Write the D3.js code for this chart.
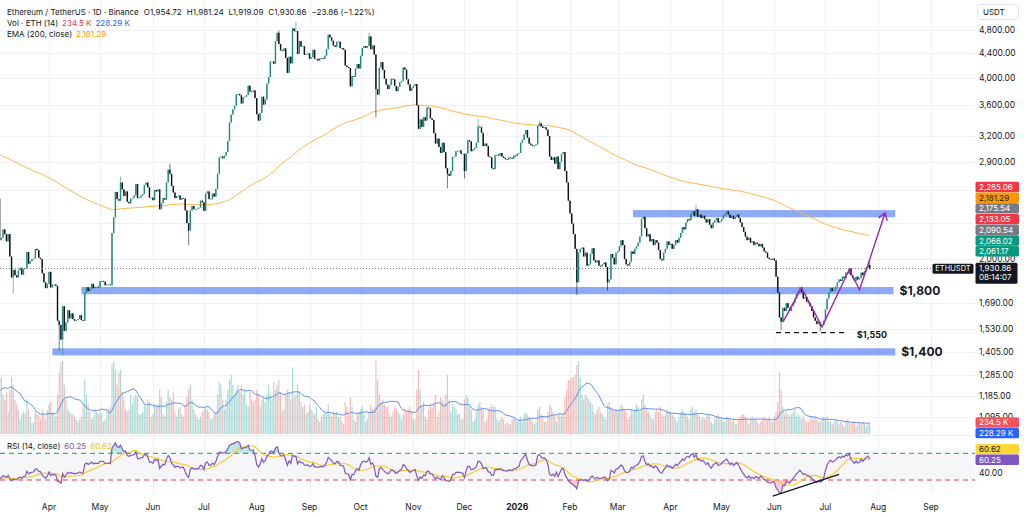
<!DOCTYPE html>
<html>
<head>
<meta charset="utf-8">
<script src="https://cdn.jsdelivr.net/npm/d3@7"></script>
<style>
  html, body { margin: 0; padding: 0; background: #fff; }
  svg { display: block; font-family: Inter, "Noto Sans", sans-serif; }
</style>
</head>
<body>
<script>
/* global d3 */

const width = 1024
const height = 517
const paneRight = 975

// daily candles from 2025-02-01 (open = previous close)
const startDay = Date.UTC(2025, 1, 1)
const closes = [
  /* 2025-02 */ 3125, 2870, 2880, 2730, 2785, 2690, 2625, 2630, 2630, 2660, 2600, 2740, 2675, 2725, 2690, 2665, 2745, 2670, 2715, 2735, 2660, 2765, 2815, 2505, 2490, 2335, 2300, 2235,
  /* 2025-03 */ 2215, 2520, 2150, 2170, 2240, 2200, 2140, 2200, 2020, 1865, 1920, 1880, 1865, 1915, 1935, 1885, 1925, 1930, 2055, 1965, 1985, 2000, 2005, 2080, 2070, 2010, 2000, 1895, 1830, 1790, 1820,
  /* 2025-04 */ 1905, 1795, 1815, 1815, 1805, 1580, 1555, 1470, 1670, 1520, 1570, 1645, 1595, 1625, 1590, 1580, 1585, 1590, 1615, 1585, 1580, 1760, 1795, 1770, 1785, 1820, 1790, 1800, 1800, 1795,
  /* 2025-05 */ 1840, 1840, 1835, 1810, 1815, 1815, 1810, 2210, 2345, 2585, 2515, 2500, 2680, 2610, 2545, 2590, 2490, 2475, 2520, 2525, 2550, 2665, 2525, 2530, 2550, 2565, 2655, 2680, 2630, 2530, 2530,
  /* 2025-06 */ 2505, 2605, 2590, 2610, 2420, 2475, 2525, 2510, 2680, 2815, 2770, 2645, 2580, 2525, 2545, 2550, 2510, 2525, 2520, 2410, 2295, 2230, 2410, 2450, 2420, 2420, 2425, 2435, 2500, 2485,
  /* 2025-07 */ 2405, 2570, 2590, 2515, 2515, 2570, 2540, 2615, 2770, 2950, 2960, 2940, 2970, 3010, 3140, 3370, 3475, 3545, 3590, 3755, 3760, 3740, 3625, 3710, 3720, 3745, 3880, 3795, 3790, 3810, 3700,
  /* 2025-08 */ 3480, 3395, 3495, 3720, 3610, 3680, 3910, 4010, 4255, 4255, 4220, 4600, 4750, 4550, 4440, 4430, 4475, 4315, 4075, 4335, 4225, 4830, 4780, 4780, 4380, 4600, 4505, 4510, 4365, 4375, 4390,
  /* 2025-09 */ 4300, 4325, 4450, 4300, 4300, 4270, 4305, 4310, 4300, 4350, 4460, 4715, 4665, 4605, 4525, 4500, 4590, 4590, 4480, 4475, 4450, 4190, 4165, 4150, 3870, 4025, 4015, 4140, 4215, 4145,
  /* 2025-10 */ 4350, 4480, 4515, 4485, 4515, 4685, 4460, 4525, 4370, 3830, 3750, 4155, 4245, 4120, 3985, 3895, 3830, 3890, 3985, 3975, 3875, 3800, 3860, 3930, 3950, 4160, 4125, 3975, 3900, 3805, 3850,
  /* 2025-11 */ 3875, 3905, 3600, 3290, 3410, 3315, 3440, 3395, 3570, 3560, 3425, 3405, 3235, 3110, 3170, 3070, 3000, 3120, 3010, 2830, 2770, 2750, 2800, 2955, 2960, 3020, 3020, 3030, 2990, 2990,
  /* 2025-12 */ 2800, 2995, 3150, 3135, 3020, 3040, 3060, 3120, 3320, 3310, 3240, 3080, 3110, 3080, 2960, 2950, 2830, 2820, 2975, 2980, 2970, 3000, 2960, 2945, 2930, 2925, 2950, 2945, 2935, 2970, 2965,
  /* 2026-01 */ 2990, 3000, 3120, 3150, 3220, 3275, 3180, 3110, 3090, 3080, 3085, 3100, 3330, 3360, 3320, 3300, 3310, 3280, 3200, 2960, 2920, 2950, 2880, 2960, 2820, 2900, 2990, 3010, 2800, 2680, 2500,
  /* 2026-02 */ 2380, 2290, 2200, 2080, 1830, 2050, 2080, 2090, 2020, 2050, 1950, 1960, 2040, 2085, 1990, 1975, 1990, 1950, 1945, 1960, 1975, 1940, 1830, 1850, 2040, 2010, 1960, 2050,
  /* 2026-03 */ 2060, 2100, 2150, 2110, 2000, 1960, 1950, 1980, 2060, 2040, 2080, 2100, 2130, 2180, 2330, 2350, 2250, 2180, 2200, 2140, 2160, 2110, 2150, 2130, 2070, 2000, 1990, 2050, 2080, 2140, 2110,
  /* 2026-04 */ 2120, 2080, 2110, 2150, 2130, 2170, 2210, 2260, 2240, 2300, 2330, 2320, 2380, 2400, 2360, 2420, 2350, 2370, 2340, 2360, 2330, 2300, 2330, 2280, 2250, 2300, 2320, 2340, 2300, 2310,
  /* 2026-05 */ 2330, 2360, 2380, 2400, 2370, 2340, 2360, 2330, 2350, 2370, 2340, 2300, 2260, 2220, 2180, 2150, 2170, 2130, 2140, 2110, 2130, 2120, 2100, 2120, 2090, 2060, 2050, 2010, 2000, 1995, 2005,
  /* 2026-06 */ 1990, 1870, 1760, 1600, 1575, 1660, 1640, 1690, 1660, 1640, 1670, 1690, 1720, 1750, 1770, 1795, 1760, 1720, 1730, 1700, 1690, 1670, 1640, 1600, 1580, 1560, 1570, 1550, 1555, 1580,
  /* 2026-07 */ 1650, 1720, 1760, 1790, 1770, 1780, 1800, 1830, 1850, 1840, 1870, 1860, 1900, 1890, 1930, 1880, 1860, 1840, 1870, 1850, 1860, 1900, 1880, 1910, 1935, 1954.72, 1930.86
]

// daily volume, thousand ETH
const volumes = [
  /* 2025-02 */ 900, 1500, 1900, 1100, 800, 750, 700, 450, 500, 700, 650, 850, 700, 600, 400, 450, 650, 700, 600, 550, 900, 600, 500, 1100, 1300, 1200, 900, 1000,
  /* 2025-03 */ 500, 1200, 1250, 1150, 800, 700, 850, 450, 900, 1150, 1000, 700, 600, 500, 300, 400, 450, 420, 700, 500, 350, 220, 250, 450, 400, 380, 300, 500, 400, 300, 480,
  /* 2025-04 */ 600, 650, 450, 400, 350, 800, 1250, 1450, 1480, 1000, 700, 500, 450, 420, 400, 350, 300, 250, 300, 350, 600, 1100, 800, 600, 450, 300, 350, 500, 450, 400,
  /* 2025-05 */ 450, 400, 250, 300, 450, 500, 550, 1400, 1480, 1300, 1000, 1250, 1300, 850, 700, 500, 450, 500, 800, 600, 750, 800, 750, 400, 400, 450, 600, 550, 700, 650, 350,
  /* 2025-06 */ 400, 600, 550, 600, 900, 750, 400, 350, 650, 900, 750, 700, 850, 450, 350, 500, 550, 400, 350, 600, 750, 900, 1000, 700, 500, 400, 350, 300, 350, 450,
  /* 2025-07 */ 500, 550, 500, 450, 300, 300, 400, 450, 800, 1050, 1000, 700, 500, 700, 900, 1100, 1200, 1000, 800, 900, 1000, 850, 1000, 800, 900, 600, 550, 850, 700, 650, 700,
  /* 2025-08 */ 900, 800, 550, 700, 750, 650, 800, 1000, 800, 700, 1050, 900, 1000, 1100, 850, 450, 500, 800, 900, 850, 700, 1350, 750, 800, 1000, 850, 650, 550, 600, 400, 450,
  /* 2025-09 */ 600, 500, 450, 400, 550, 300, 250, 350, 400, 450, 400, 600, 400, 350, 450, 400, 450, 350, 350, 250, 200, 650, 550, 400, 750, 550, 300, 250, 400, 450,
  /* 2025-10 */ 500, 550, 400, 250, 300, 450, 600, 500, 550, 1480, 1100, 800, 650, 700, 600, 550, 550, 400, 350, 450, 550, 500, 450, 400, 300, 400, 500, 450, 500, 550, 450,
  /* 2025-11 */ 300, 300, 900, 1300, 900, 600, 650, 350, 300, 500, 600, 550, 650, 800, 350, 450, 750, 700, 650, 800, 1200, 700, 450, 600, 550, 500, 400, 400, 300, 300,
  /* 2025-12 */ 700, 800, 750, 550, 500, 250, 300, 450, 600, 650, 550, 500, 250, 300, 500, 550, 600, 550, 550, 300, 250, 300, 350, 300, 200, 250, 200, 200, 300, 350, 300,
  /* 2026-01 */ 250, 300, 350, 250, 400, 450, 400, 350, 300, 250, 200, 250, 500, 550, 400, 350, 250, 250, 450, 600, 550, 450, 400, 250, 400, 400, 350, 450, 750, 900, 1100,
  /* 2026-02 */ 1100, 1150, 1150, 1200, 1400, 1480, 1150, 800, 700, 800, 750, 700, 650, 600, 450, 400, 500, 550, 450, 400, 350, 300, 600, 650, 550, 500, 450, 500,
  /* 2026-03 */ 450, 500, 600, 550, 500, 450, 300, 350, 500, 450, 500, 600, 550, 450, 700, 800, 600, 500, 450, 400, 300, 300, 450, 500, 450, 550, 400, 350, 400, 500, 450,
  /* 2026-04 */ 450, 400, 350, 300, 250, 350, 450, 500, 450, 400, 350, 300, 500, 550, 450, 500, 400, 350, 300, 350, 300, 350, 400, 350, 250, 200, 300, 350, 400, 350,
  /* 2026-05 */ 300, 250, 250, 350, 300, 300, 250, 300, 200, 200, 300, 350, 400, 400, 350, 300, 200, 300, 350, 300, 300, 250, 200, 250, 300, 350, 300, 300, 350, 250, 250,
  /* 2026-06 */ 350, 450, 650, 1250, 900, 550, 400, 450, 400, 350, 400, 450, 500, 350, 400, 350, 300, 350, 300, 250, 250, 300, 350, 300, 350, 300, 250, 250, 300, 350,
  /* 2026-07 */ 300, 350, 250, 250, 200, 250, 300, 250, 200, 250, 200, 150, 250, 300, 250, 200, 250, 250, 150, 200, 250, 200, 250, 200, 150, 200, 234.5
]

// notable wick extremes
const wickHighs = {
  '2025-05-13': 2740, '2025-06-11': 2880, '2025-08-14': 4790, '2025-08-24': 4956,
  '2025-10-06': 4755, '2025-12-09': 3420, '2026-01-14': 3400, '2026-04-16': 2460, '2026-07-27': 1981.24
}
const wickLows = {
  '2025-03-11': 1755, '2025-04-07': 1410, '2025-04-09': 1385, '2025-06-22': 2110, '2025-10-10': 3435,
  '2025-11-21': 2620, '2025-12-01': 2720, '2026-02-05': 1745, '2026-02-23': 1775, '2026-06-05': 1524,
  '2026-06-28': 1518, '2026-07-27': 1919.09
}

const emaSeed = 3110
const priceTicks = [4800, 4400, 4000, 3600, 3200, 2900, 2600, 2300, 2000, 1690, 1530, 1405, 1285, 1185, 1095]
const hiddenPriceLabels = [2600, 2300] // sit under the price tags
const rsiTicks = [40]

const levelBars = [
  { price: 2379, from: '2026-03-10', to: '2026-08-11' },
  { price: 1773, from: '2025-04-20', to: '2026-08-10', label: '$1,800' },
  { price: 1403, from: '2025-04-03', to: '2026-08-11', label: '$1,400' }
]
const dashedLevel = { price: 1510, from: '2026-06-02', to: '2026-07-13', label: '$1,550' }
const zigzag = [
  ['2026-06-06', 1572], ['2026-06-17', 1792], ['2026-06-29', 1544], ['2026-07-15', 1922],
  ['2026-07-21', 1779], ['2026-07-26', 1959], ['2026-08-05', 2385]
]
const rsiTrend = [['2026-05-31', 6], ['2026-07-09', 38.5]]

const priceTags = [
  { text: '2,285.06', bg: '#f23645', fg: '#fff' },
  { text: '2,181.29', bg: '#ff9800', fg: '#131722' },
  { text: '2,175.54', bg: '#787b86', fg: '#fff' },
  { text: '2,133.05', bg: '#f23645', fg: '#fff' },
  { text: '2,090.54', bg: '#787b86', fg: '#fff' },
  { text: '2,066.02', bg: '#089981', fg: '#fff' },
  { text: '2,061.17', bg: '#089981', fg: '#fff', value: 2061.17 }
]
const lastPrice = 1930.86
const volTags = [{ text: '234.5 K', bg: '#f7525f', value: 234.5 }, { text: '228.29 K', bg: '#2962ff' }]
const rsiTags = [{ text: '60.62', bg: '#fdd835', fg: '#131722' }, { text: '60.25', bg: '#7e57c2', fg: '#fff', value: 60.25 }]

const legendRows = [
  { y: 14.5, gap: 5, items: [['Ethereum / TetherUS · 1D · Binance', '#131722'], ['O1,954.72', '#131722'], ['H1,981.24', '#131722'], ['L1,919.09', '#131722'], ['C1,930.86', '#131722'], ['−23.86 (−1.22%)', '#131722']] },
  { y: 26, gap: 4, items: [['Vol · ETH (14)', '#131722'], ['234.5 K', '#f23645'], ['228.29 K', '#2962ff']] },
  { y: 36.5, gap: 4, items: [['EMA (200, close)', '#131722'], ['2,181.29', '#ff9800']] },
  { y: 449, gap: 4, items: [['RSI (14, close)', '#131722'], ['60.25', '#7e57c2'], ['60.62', '#f5c400']] }
]

const parse = d3.utcParse('%Y-%m-%d')
const fmtDay = d3.utcFormat('%Y-%m-%d')

const candles = closes.map((c, i) => {
  const date = d3.utcDay.offset(new Date(startDay), i)
  const key = fmtDay(date)
  const o = i ? closes[i - 1] : c
  return {
    date,
    o,
    c,
    h: Math.max(o, c, wickHighs[key] || 0),
    l: Math.min(o, c, wickLows[key] || Infinity),
    v: volumes[i]
  }
})

// indicators
const k = 2 / 201
let e = emaSeed
const ema = closes.map(c => (e = c * k + e * (1 - k)))

const rsi = [null]
let ag = 0
let al = 0
for (let i = 1; i < closes.length; i++) {
  const ch = closes[i] - closes[i - 1]
  const g = Math.max(ch, 0)
  const l = Math.max(-ch, 0)
  if (i <= 14) {
    ag += g / 14
    al += l / 14
    rsi.push(i === 14 ? 100 - 100 / (1 + ag / al) : null)
  } else {
    ag = (ag * 13 + g) / 14
    al = (al * 13 + l) / 14
    rsi.push(100 - 100 / (1 + ag / al))
  }
}
const rsiMa = rsi.map((r, i) => {
  if (i < 27) return null
  return d3.mean(rsi.slice(i - 13, i + 1))
})
const volMa = volumes.map((v, i) => i >= 13 ? d3.mean(volumes.slice(i - 13, i + 1)) : null)

// scales
const x = d3.scaleUtc()
  .domain([new Date(Date.UTC(2025, 3, 1)), new Date(Date.UTC(2026, 8, 1))])
  .range([49, 931])
const y = d3.scaleLog().domain([1405, 4800]).range([351.5, 30])
const yVol = d3.scaleLinear().domain([0, 1480]).range([434, 361])
const yRsi = d3.scaleLinear().domain([30, 70]).range([480, 453.3])

const svg = d3.select('body').append('svg')
  .attr('width', width)
  .attr('height', height)

const defs = svg.append('defs')
defs.append('clipPath').attr('id', 'main')
  .append('rect').attr('x', 0).attr('y', 0).attr('width', paneRight).attr('height', 434)
defs.append('clipPath').attr('id', 'rsi')
  .append('rect').attr('x', 0).attr('y', 436).attr('width', paneRight).attr('height', 58)

const crisp = v => Math.round(v) + 0.5

// grid
const months = d3.utcMonth.range(new Date(Date.UTC(2025, 3, 1)), new Date(Date.UTC(2026, 8, 2)))
svg.append('g').selectAll('line').data(months).join('line')
  .attr('x1', d => crisp(x(d))).attr('x2', d => crisp(x(d)))
  .attr('y1', 0).attr('y2', 494)
  .attr('stroke', '#f0f1f4')
svg.append('g').selectAll('line').data(priceTicks).join('line')
  .attr('x1', 0).attr('x2', paneRight)
  .attr('y1', d => crisp(y(d))).attr('y2', d => crisp(y(d)))
  .attr('stroke', '#f0f1f4')

svg.append('line')
  .attr('x1', 0).attr('x2', width).attr('y1', 435.5).attr('y2', 435.5)
  .attr('stroke', '#eceef2')

// RSI band
svg.append('rect')
  .attr('x', 0).attr('width', paneRight)
  .attr('y', yRsi(70)).attr('height', yRsi(30) - yRsi(70))
  .attr('fill', '#f6f6f8')

const main = svg.append('g').attr('clip-path', 'url(#main)')

// horizontal zones
main.append('g').selectAll('rect').data(levelBars).join('rect')
  .attr('x', d => x(parse(d.from)))
  .attr('width', d => x(parse(d.to)) - x(parse(d.from)))
  .attr('y', d => y(d.price) - 3.6)
  .attr('height', 7.2)
  .attr('fill', 'rgba(66,111,240,0.6)')

// volume
main.append('g').selectAll('rect').data(candles).join('rect')
  .attr('x', d => x(d.date) - 0.6)
  .attr('width', 1.2)
  .attr('y', d => yVol(d.v))
  .attr('height', d => yVol(0) - yVol(d.v))
  .attr('fill', d => d.c >= d.o ? 'rgba(38,166,154,0.4)' : 'rgba(239,83,80,0.4)')

main.append('path')
  .datum(candles.map((d, i) => [d.date, volMa[i]]).filter(d => d[1] != null))
  .attr('fill', 'none')
  .attr('stroke', '#5b8def')
  .attr('stroke-width', 1)
  .attr('d', d3.line().x(d => x(d[0])).y(d => yVol(d[1])))

// EMA 200
main.append('path')
  .datum(candles.map((d, i) => [d.date, ema[i]]))
  .attr('fill', 'none')
  .attr('stroke', '#ffb347')
  .attr('stroke-width', 1)
  .attr('d', d3.line().x(d => x(d[0])).y(d => y(d[1])))

// candles
const upColor = '#1d8b80'
const downColor = '#111'
const cg = main.append('g').selectAll('g').data(candles).join('g')
  .attr('stroke', d => d.c >= d.o ? upColor : downColor)
  .attr('fill', d => d.c >= d.o ? upColor : downColor)
cg.append('line')
  .attr('x1', d => x(d.date)).attr('x2', d => x(d.date))
  .attr('y1', d => y(d.h)).attr('y2', d => y(d.l))
  .attr('stroke-width', 0.8)
  .attr('stroke-opacity', 0.7)
cg.append('rect')
  .attr('x', d => x(d.date) - 0.7)
  .attr('width', 1.4)
  .attr('y', d => y(Math.max(d.o, d.c)))
  .attr('height', d => Math.max(0.8, Math.abs(y(d.o) - y(d.c))))
  .attr('stroke', 'none')

// last price line
svg.append('line')
  .attr('x1', 0).attr('x2', 932)
  .attr('y1', crisp(y(lastPrice))).attr('y2', crisp(y(lastPrice)))
  .attr('stroke', '#787b86')
  .attr('stroke-dasharray', '1,2')

// annotations
svg.append('g').selectAll('text').data(levelBars.filter(d => d.label)).join('text')
  .attr('x', d => x(parse(d.to)) + 6)
  .attr('y', d => y(d.price) + 4.5)
  .attr('font-size', 12)
  .attr('font-weight', 700)
  .attr('fill', '#131722')
  .text(d => d.label)

svg.append('line')
  .attr('x1', x(parse(dashedLevel.from))).attr('x2', x(parse(dashedLevel.to)))
  .attr('y1', y(dashedLevel.price)).attr('y2', y(dashedLevel.price))
  .attr('stroke', '#131722')
  .attr('stroke-width', 1.3)
  .attr('stroke-dasharray', '5,4')
svg.append('text')
  .attr('x', x(parse(dashedLevel.to)) + 11)
  .attr('y', y(dashedLevel.price) + 5)
  .attr('font-size', 9)
  .attr('font-weight', 700)
  .attr('fill', '#131722')
  .text(dashedLevel.label)

const zz = zigzag.map(d => [x(parse(d[0])), y(d[1])])
svg.append('path')
  .attr('d', d3.line()(zz))
  .attr('fill', 'none')
  .attr('stroke', '#9c27b0')
  .attr('stroke-width', 1.4)
const tip = zz[zz.length - 1]
const prev = zz[zz.length - 2]
const back = Math.atan2(prev[1] - tip[1], prev[0] - tip[0])
svg.append('path')
  .attr('d', d3.line()([
    [tip[0] + 8 * Math.cos(back + 0.6), tip[1] + 8 * Math.sin(back + 0.6)],
    tip,
    [tip[0] + 8 * Math.cos(back - 0.6), tip[1] + 8 * Math.sin(back - 0.6)]
  ]))
  .attr('fill', 'none')
  .attr('stroke', '#9c27b0')
  .attr('stroke-width', 1.4)

// RSI pane
svg.append('g').selectAll('line').data([[70, '#089981'], [30, '#f23645']]).join('line')
  .attr('x1', 0).attr('x2', paneRight)
  .attr('y1', d => yRsi(d[0])).attr('y2', d => yRsi(d[0]))
  .attr('stroke', d => d[1])
  .attr('stroke-dasharray', '5,4')

const rsiG = svg.append('g').attr('clip-path', 'url(#rsi)')
const rsiPts = candles.map((d, i) => [d.date, rsi[i]]).filter(d => d[1] != null)
rsiG.append('path')
  .datum(rsiPts)
  .attr('fill', 'rgba(8,153,129,0.25)')
  .attr('d', d3.area().x(d => x(d[0])).y0(yRsi(70)).y1(d => yRsi(Math.max(d[1], 70))))
rsiG.append('path')
  .datum(rsiPts)
  .attr('fill', 'rgba(242,54,69,0.25)')
  .attr('d', d3.area().x(d => x(d[0])).y0(yRsi(30)).y1(d => yRsi(Math.min(d[1], 30))))
rsiG.append('path')
  .datum(candles.map((d, i) => [d.date, rsiMa[i]]).filter(d => d[1] != null))
  .attr('fill', 'none')
  .attr('stroke', '#f7cb2e')
  .attr('stroke-width', 1.2)
  .attr('d', d3.line().x(d => x(d[0])).y(d => yRsi(d[1])))
rsiG.append('path')
  .datum(rsiPts)
  .attr('fill', 'none')
  .attr('stroke', '#7e57c2')
  .attr('stroke-width', 1.2)
  .attr('d', d3.line().x(d => x(d[0])).y(d => yRsi(d[1])))

svg.append('line')
  .attr('x1', x(parse(rsiTrend[0][0]))).attr('y1', yRsi(rsiTrend[0][1]))
  .attr('x2', x(parse(rsiTrend[1][0]))).attr('y2', yRsi(rsiTrend[1][1]))
  .attr('stroke', '#131722')
  .attr('stroke-width', 1.3)

// axes
const axisText = svg.append('g')
  .attr('font-size', 8.5)
  .attr('fill', '#131722')
axisText.selectAll('text.p').data(priceTicks.filter(d => !hiddenPriceLabels.includes(d))).join('text')
  .attr('class', 'p')
  .attr('x', 979)
  .attr('y', d => y(d) + 3)
  .text(d => d3.format(',.2f')(d))
axisText.selectAll('text.r').data(rsiTicks).join('text')
  .attr('class', 'r')
  .attr('x', 979)
  .attr('y', d => yRsi(d) + 3)
  .text(d => d3.format('.2f')(d))
axisText.selectAll('text.m').data(months).join('text')
  .attr('class', 'm')
  .attr('x', d => x(d))
  .attr('y', 510)
  .attr('text-anchor', 'middle')
  .attr('font-weight', d => d.getUTCMonth() === 0 ? 700 : 400)
  .text(d => d.getUTCMonth() === 0 ? d.getUTCFullYear() : d3.utcFormat('%b')(d))

// right-hand tags
function drawTags (tags, anchorY, dir) {
  const g = svg.append('g').attr('font-size', 8)
  const n = tags.length
  tags.forEach((t, i) => {
    const cy = dir < 0 ? anchorY - (n - 1 - i) * 10.7 : anchorY + i * 10.7
    g.append('rect')
      .attr('x', 975.5).attr('y', cy - 5.2)
      .attr('width', 43.5).attr('height', 10.4)
      .attr('rx', 1.5)
      .attr('fill', t.bg)
    g.append('text')
      .attr('x', 979).attr('y', cy + 3)
      .attr('fill', t.fg || '#fff')
      .text(t.text)
  })
}
drawTags(priceTags, y(priceTags[priceTags.length - 1].value), -1)
drawTags(volTags, yVol(volTags[0].value), 1)
drawTags(rsiTags, yRsi(rsiTags[rsiTags.length - 1].value), -1)

const ly = y(lastPrice)
svg.append('rect')
  .attr('x', 932.5).attr('y', ly - 4.5).attr('width', 41).attr('height', 10)
  .attr('rx', 1.5).attr('fill', '#131722')
svg.append('text')
  .attr('x', 953).attr('y', ly + 3).attr('text-anchor', 'middle')
  .attr('font-size', 7.5).attr('fill', '#fff')
  .text('ETHUSDT')
svg.append('rect')
  .attr('x', 975.5).attr('y', ly - 5.5).attr('width', 42).attr('height', 21)
  .attr('rx', 1.5).attr('fill', '#131722')
svg.append('text')
  .attr('x', 979).attr('y', ly + 2.8)
  .attr('font-size', 8).attr('fill', '#fff')
  .text(d3.format(',.2f')(lastPrice))
svg.append('text')
  .attr('x', 979).attr('y', ly + 12)
  .attr('font-size', 8).attr('fill', '#fff')
  .text('08:14:07')

svg.append('rect')
  .attr('x', 977.5).attr('y', 4.5).attr('width', 41).attr('height', 15)
  .attr('rx', 3).attr('fill', '#fff').attr('stroke', '#e0e3eb')
svg.append('text')
  .attr('x', 983).attr('y', 15)
  .attr('font-size', 8).attr('fill', '#131722')
  .text('USDT')

// legends, laid out left to right
const legend = svg.append('g').attr('font-size', 8)
legendRows.forEach(row => {
  let cx = 7
  row.items.forEach(([t, c]) => {
    const node = legend.append('text').attr('x', cx).attr('y', row.y).attr('fill', c).text(t)
    cx += node.node().getComputedTextLength() + row.gap
  })
})
</script>
</body>
</html>
